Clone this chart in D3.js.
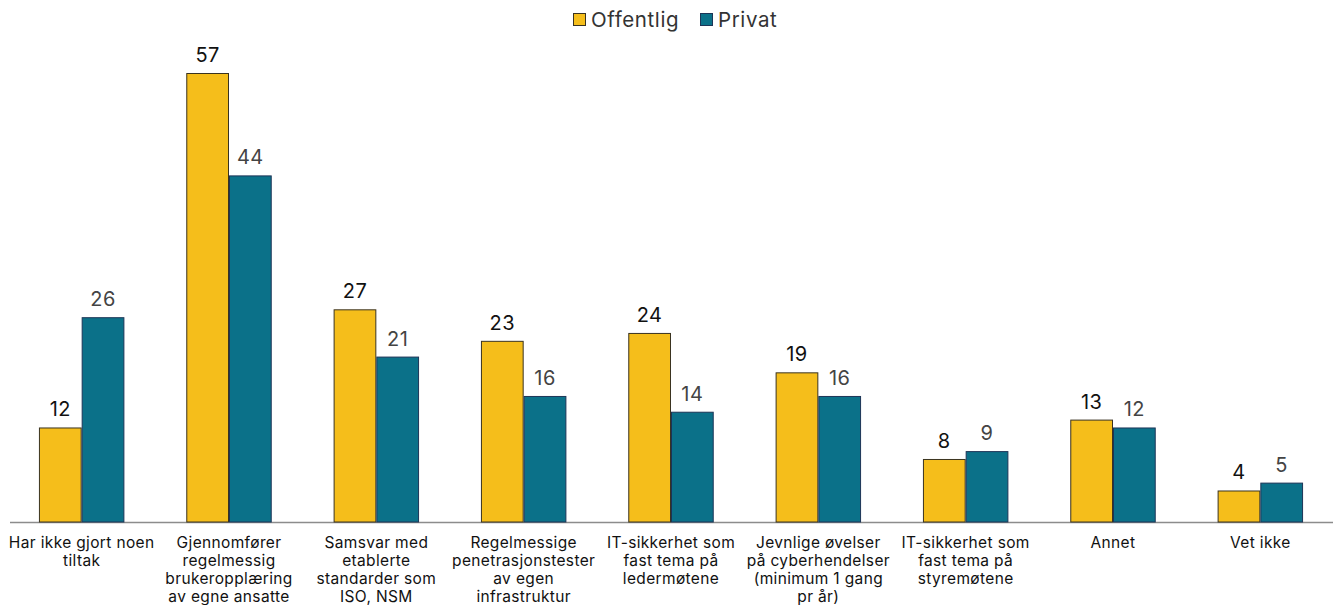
<!DOCTYPE html>
<html><head><meta charset="utf-8">
<script src="https://cdn.jsdelivr.net/npm/d3@7"></script>
<style>body{margin:0;background:#fff}svg{display:block}text{font-family:Inter,"Open Sans",sans-serif}</style>
</head><body><svg id="c" width="1339" height="605"></svg>
<script>
const categories = [
  ["Har ikke gjort noen","tiltak"],
  ["Gjennomfører","regelmessig","brukeropplæring","av egne ansatte"],
  ["Samsvar med","etablerte","standarder som","ISO, NSM"],
  ["Regelmessige","penetrasjonstester","av egen","infrastruktur"],
  ["IT-sikkerhet som","fast tema på","ledermøtene"],
  ["Jevnlige øvelser","på cyberhendelser","(minimum 1 gang","pr år)"],
  ["IT-sikkerhet som","fast tema på","styremøtene"],
  ["Annet"],
  ["Vet ikke"]
];
const seriesNames = ["Offentlig","Privat"];
const offentlig = [12,57,27,23,24,19,8,13,4];
const privat = [26,44,21,16,14,16,9,12,5];
const colors = ["#F5BE1B","#0B7189"];
const strokes = ["#3a3320","#1d3557"];
const labelColors = ["#111","#444"];

const svg = d3.select("#c");
const keys = categories.map((c,i)=>i);
const x = d3.scaleBand().domain(keys).range([8,1334]).paddingInner(0.42).paddingOuter(0.21);
const x1 = d3.scaleBand().domain([0,1]).range([0,x.bandwidth()]);
const y = d3.scaleLinear().domain([0,57]).range([522,73]);
const data = [offentlig, privat];

// axis baseline
svg.append("line").attr("x1",10).attr("x2",1333).attr("y1",y(0)+0.5).attr("y2",y(0)+0.5)
  .attr("stroke","#8c8c8c").attr("stroke-width",1.5);

data.forEach((vals,s)=>{
  const g = svg.append("g");
  g.selectAll("rect").data(vals).join("rect")
    .attr("x",(d,i)=>x(i)+x1(s)+0.5)
    .attr("y",d=>y(d)+0.5)
    .attr("width",x1.bandwidth()-1)
    .attr("height",d=>y(0)-y(d)-0.5)
    .attr("fill",colors[s]).attr("stroke",strokes[s]).attr("stroke-width",1);
  g.selectAll("text").data(vals).join("text")
    .attr("x",(d,i)=>x(i)+x1(s)+x1.bandwidth()/2)
    .attr("y",d=>y(d)-11)
    .attr("text-anchor","middle").attr("font-size",20).attr("letter-spacing",0.5)
    .attr("fill",labelColors[s]).text(d=>d);
});

// category labels
const cl = svg.append("g");
categories.forEach((lines,i)=>{
  const t = cl.append("text").attr("text-anchor","middle").attr("font-size",15.5)
    .attr("letter-spacing",0.35).attr("fill","#111");
  lines.forEach((ln,j)=>{
    t.append("tspan").attr("x",x(i)+x.bandwidth()/2).attr("y",548+j*18).text(ln);
  });
});

// legend
const leg = svg.append("g");
const legX = [573,700];
seriesNames.forEach((n,s)=>{
  leg.append("rect").attr("x",legX[s]+0.5).attr("y",13.5).attr("width",12).attr("height",12)
    .attr("fill",colors[s]).attr("stroke",strokes[s]).attr("stroke-width",1);
  leg.append("text").attr("x",legX[s]+18).attr("y",27).attr("font-size",20.5)
    .attr("letter-spacing",0.6).attr("fill","#333").text(n);
});
</script></body></html>
